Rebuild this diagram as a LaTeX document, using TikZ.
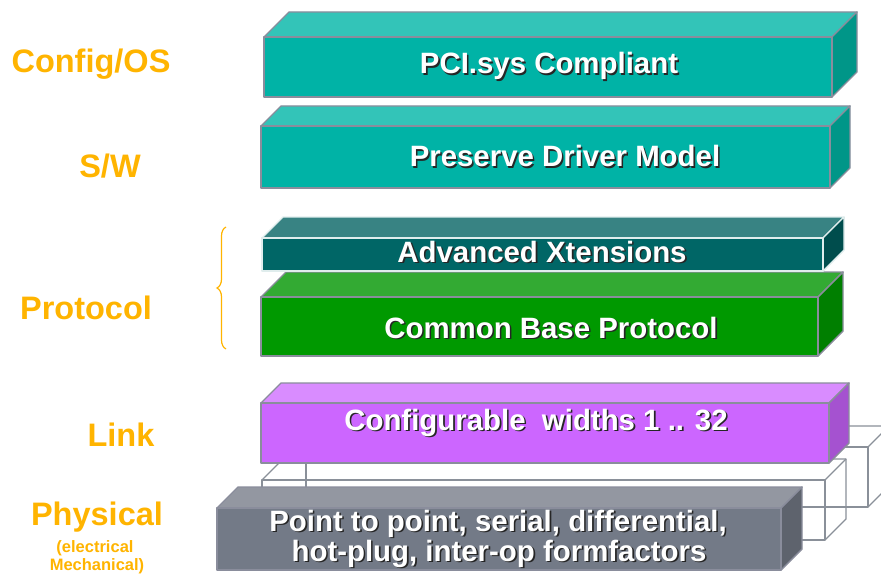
\documentclass[tikz,border=0pt]{standalone}
\usepackage{fontspec}
\setmainfont{Liberation Sans}
\usetikzlibrary{decorations.pathreplacing}
\definecolor{edgegray}{HTML}{8A8D9C}
\definecolor{wiregray}{HTML}{8A9099}
\definecolor{lblorange}{HTML}{FFB400}
\definecolor{tealF}{HTML}{00B3A6}
\definecolor{tealT}{HTML}{33C4B8}
\definecolor{tealS}{HTML}{009688}
\definecolor{dtealF}{HTML}{006666}
\definecolor{dtealT}{HTML}{388383}
\definecolor{dtealS}{HTML}{004D4D}
\definecolor{grnF}{HTML}{009900}
\definecolor{grnT}{HTML}{33AA33}
\definecolor{grnS}{HTML}{007F00}
\definecolor{purF}{HTML}{CC66FF}
\definecolor{purT}{HTML}{D98CFF}
\definecolor{purS}{HTML}{A552D0}
\definecolor{gryF}{HTML}{737A87}
\definecolor{gryT}{HTML}{9397A1}
\definecolor{gryS}{HTML}{5E636D}
\newcommand\layerbox[8]{%
  \filldraw[slabedge, fill=#7] (#1,#2) -- (#1+#5,#2-#5) -- (#3+#5,#2-#5) -- (#3,#2) -- cycle;
  \filldraw[slabedge, fill=#8] (#3,#2) -- (#3+#5,#2-#5) -- (#3+#5,#4-#5) -- (#3,#4) -- cycle;
  \filldraw[slabedge, fill=#6] (#1,#2) rectangle (#3,#4);
}
\newcommand\wirebox[5]{%
  \draw[wire] (#1,#2) rectangle (#3,#4);
  \draw[wire] (#1,#2) -- (#1+#5,#2-#5) -- (#3+#5,#2-#5) -- (#3+#5,#4-#5) -- (#3,#4);
  \draw[wire] (#3,#2) -- (#3+#5,#2-#5);
}
\newcommand\shadowtext[4]{%
  \node[boxtxt, text=black!85] at (#2+1.6,#3+1.6) {#4};
  \node[boxtxt] (#1) at (#2,#3) {#4};
}
\tikzset{
  slabedge/.style={draw=edgegray, line width=1.4pt, line join=round},
  wire/.style={draw=wiregray, line width=1.3pt, line join=round},
  boxtxt/.style={anchor=base, inner sep=0pt, text=white, align=center,
    font=\bfseries\fontsize{29.4}{30}\selectfont},
  lbl/.style={anchor=base, inner sep=0pt, text=lblorange, align=center,
    font=\bfseries\fontsize{32.5}{34}\selectfont},
  sublbl/.style={anchor=base, inner sep=0pt, text=lblorange, align=center,
    font=\bfseries\fontsize{16.5}{18}\selectfont},
}
\begin{document}
\begin{tikzpicture}[x=1pt, y=-1pt]
\clip (0,0) rectangle (881,575);
\fill[white] (0,0) rectangle (881,575);
% upper layers
\layerbox{264}{37}{832}{97}{25}{tealF}{tealT}{tealS}
\layerbox{261}{126}{830}{188}{20}{tealF}{tealT}{tealS}
\layerbox{261}{297}{818}{356}{25}{grnF}{grnT}{grnS}
\begin{scope}[slabedge/.style={draw=white!88!dtealF, line width=1.4pt, line join=round}]
\layerbox{262}{238}{823}{271}{21}{dtealF}{dtealT}{dtealS}
\end{scope}
% wire frames
\wirebox{306}{447}{868}{507}{21}
\wirebox{262}{480}{825}{540}{21}
% link and physical
\layerbox{261}{403}{829}{463}{20}{purF}{purT}{purS}
\layerbox{217}{508}{781}{570}{21}{gryF}{gryT}{gryS}
% box texts
\shadowtext{pci}{549}{74}{PCI.sys Compliant}
\shadowtext{pdm}{565}{167}{Preserve Driver Model}
\shadowtext{adx}{542}{262}{Advanced Xtensions}
\shadowtext{cbp}{551}{338}{Common Base Protocol}
\shadowtext{cfw}{536}{430}{Configurable\ \ widths 1 .. 32}
\shadowtext{ptp}{498}{531}{Point to point, serial, differential,}
\shadowtext{hpl}{499}{561}{hot-plug, inter-op formfactors}
% labels
\node[lbl] (cfg) at (91,73) {Config/OS};
\node[lbl] (sw) at (110,178) {S/W};
\node[lbl] (prot) at (86,319) {Protocol};
\node[lbl] (link) at (121,446) {Link};
\node[lbl] (phys) at (97,525) {Physical};
\node[sublbl] (elec) at (95,552) {(electrical};
\node[sublbl] (mech) at (97,570) {Mechanical)};
% brace
\coordinate (brB) at (226,349);
\coordinate (brT) at (226,227);
\draw[lblorange, line width=1.2pt, decorate, decoration={brace, amplitude=9pt}] (brB) -- (brT);
\end{tikzpicture}
\end{document}
